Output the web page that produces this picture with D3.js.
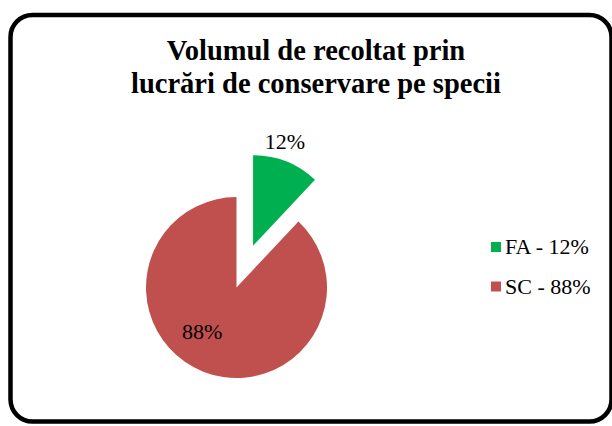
<!DOCTYPE html>
<html>
<head>
<meta charset="utf-8">
<script src="https://cdn.jsdelivr.net/npm/d3@7"></script>
<style>
  html, body { margin: 0; padding: 0; background: #fff; }
  svg { display: block; }
</style>
</head>
<body>
<svg id="chart" width="612" height="426"></svg>
<script>
const categories = ["FA", "SC"];
const values = [12, 88];
const dataLabels = ["12%", "88%"];
const legendLabels = ["FA - 12%", "SC - 88%"];
const titleLines = ["Volumul de recoltat prin", "lucrări de conservare pe specii"];
const colors = ["#00B050", "#C0504D"];

const FONT = '"Liberation Serif"';
const svg = d3.select("#chart");

// frame
svg.append("rect")
  .attr("x", 10.5).attr("y", 15).attr("width", 601).attr("height", 406.5)
  .attr("rx", 22).attr("ry", 22)
  .attr("fill", "#fff").attr("stroke", "#000").attr("stroke-width", 4.5);

// title
const title = svg.append("text")
  .attr("text-anchor", "middle")
  .style("font-family", FONT).attr("font-weight", "bold").attr("font-size", 28.5)
  .attr("fill", "#000");
title.selectAll("tspan").data(titleLines).join("tspan")
  .attr("x", 316).attr("y", (d, i) => 60 + i * 32.5)
  .style("font-family", FONT)
  .text(d => d);

// pie
const cx = 236.5, cy = 287.5, r = 90.5, explode = 45;
const pie = d3.pie().sort(null).value(d => d)(values);
const arc = d3.arc().innerRadius(0).outerRadius(r);
const g = svg.append("g").attr("transform", `translate(${cx},${cy})`);

function offset(d, dist) {
  const a = (d.startAngle + d.endAngle) / 2;
  return [Math.sin(a) * dist, -Math.cos(a) * dist];
}
const explodeBy = [explode, 0];

g.selectAll("path").data(pie).join("path")
  .attr("d", arc)
  .attr("fill", (d, i) => colors[i])
  .attr("transform", (d, i) => { const o = offset(d, explodeBy[i]); return `translate(${o[0]},${o[1]})`; });

// data labels
const labelRadius = [r * 1.2, r * 0.62];
const labelAngleShift = [-0.08, 0.28];
g.selectAll("text.lbl").data(pie).join("text")
  .attr("class", "lbl")
  .style("font-family", FONT).attr("font-size", 22).attr("fill", "#000")
  .attr("text-anchor", "middle").attr("dominant-baseline", "central")
  .attr("x", (d, i) => {
    const o = offset(d, explodeBy[i]);
    const a = (d.startAngle + d.endAngle) / 2 + labelAngleShift[i];
    return o[0] + Math.sin(a) * labelRadius[i];
  })
  .attr("y", (d, i) => {
    const o = offset(d, explodeBy[i]);
    const a = (d.startAngle + d.endAngle) / 2 + labelAngleShift[i];
    return o[1] - Math.cos(a) * labelRadius[i];
  })
  .text((d, i) => dataLabels[i]);

// legend
const lg = svg.append("g").attr("transform", "translate(491,242)");
const items = lg.selectAll("g").data(categories).join("g")
  .attr("transform", (d, i) => `translate(0,${i * 39.5})`);
items.append("rect").attr("width", 10).attr("height", 10).attr("fill", (d, i) => colors[i]);
items.append("text").attr("x", 14).attr("y", 12)
  .style("font-family", FONT).attr("font-size", 22).attr("fill", "#000")
  .text((d, i) => legendLabels[i]);
</script>
</body>
</html>
